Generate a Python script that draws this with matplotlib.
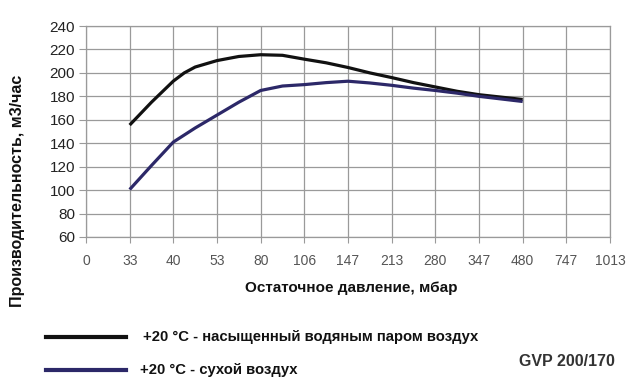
import matplotlib
matplotlib.use("Agg")
import matplotlib.pyplot as plt

plt.rcParams["font.family"] = ["Liberation Sans", "DejaVu Sans"]

# pressure categories (equally spaced on the chart)
categories = ["0", "33", "40", "53", "80", "106", "147", "213", "280", "347", "480", "747", "1013"]
y_ticks = [60, 80, 100, 120, 140, 160, 180, 200, 220, 240]

# curve points: position on the category axis, capacity m3/h
wet_x = [1, 1.5, 2, 2.25, 2.5, 3, 3.5, 4, 4.5, 5, 5.5, 6, 6.5, 7, 7.5, 8, 8.5, 9, 10]
wet_y = [155.5, 175, 193, 200, 205, 210.5, 214, 215.5, 215, 211.7, 208.6, 204.6, 200, 196,
         191.7, 188, 184.3, 181.4, 177.3]
dry_x = [1, 1.5, 2, 2.5, 3, 3.5, 4, 4.5, 5, 5.5, 6, 6.5, 7, 7.5, 8, 8.5, 9, 10]
dry_y = [100.5, 121, 141, 153, 164, 175, 185, 188.8, 190, 191.7, 192.9, 191.4, 189.4, 187,
         185, 182.7, 180, 175.6]

fig = plt.figure(figsize=(6.38, 3.9), dpi=100)
ax = fig.add_axes([86 / 638, 1 - 237 / 390, 524 / 638, 211 / 390])

ax.plot(wet_x, wet_y, color="#111111", lw=2.3, solid_capstyle="butt")
ax.plot(dry_x, dry_y, color="#2c2868", lw=2.3, solid_capstyle="butt")

ax.set_xlim(0, len(categories) - 1)
ax.set_ylim(60, 240)
ax.set_xticks(range(len(categories)))
ax.set_xticklabels(categories)
ax.set_yticks(y_ticks)
ax.grid(True, color="#9a9a9a", lw=0.9)
ax.set_axisbelow(True)
for s in ax.spines.values():
    s.set_color("#9a9a9a")
    s.set_linewidth(0.9)
ax.tick_params(axis="x", colors="#9a9a9a", length=4, labelcolor="#555555", labelsize=10, pad=8)
ax.tick_params(axis="y", colors="#9a9a9a", length=5, labelcolor="#222222", labelsize=11, pad=3)

fig.text(351 / 638, 1 - 288 / 390, "Остаточное давление, мбар", fontsize=11,
         ha="center", va="center", weight="bold", color="#111111")
fig.text(18 / 638, 1 - 191 / 390, "Производительность, м3/час", fontsize=11.5,
         rotation=90, ha="center", va="center", weight="bold", color="#111111")

# legend
fig.add_artist(plt.Line2D([46 / 638, 126 / 638], [1 - 337 / 390] * 2, color="#111111", lw=3))
fig.add_artist(plt.Line2D([46 / 638, 126 / 638], [1 - 370 / 390] * 2, color="#2c2868", lw=3))
fig.text(143 / 638, 1 - 337 / 390, "+20 °C - насыщенный водяным паром воздух",
         fontsize=10.7, weight="bold", va="center", color="#111111")
fig.text(140 / 638, 1 - 370 / 390, "+20 °C - сухой воздух",
         fontsize=10.7, weight="bold", va="center", color="#111111")
fig.text(567 / 638, 1 - 362 / 390, "GVP 200/170", fontsize=11.5, weight="bold",
         ha="center", va="center", color="#333333")

fig.savefig("out.png", dpi=100, facecolor="white")
